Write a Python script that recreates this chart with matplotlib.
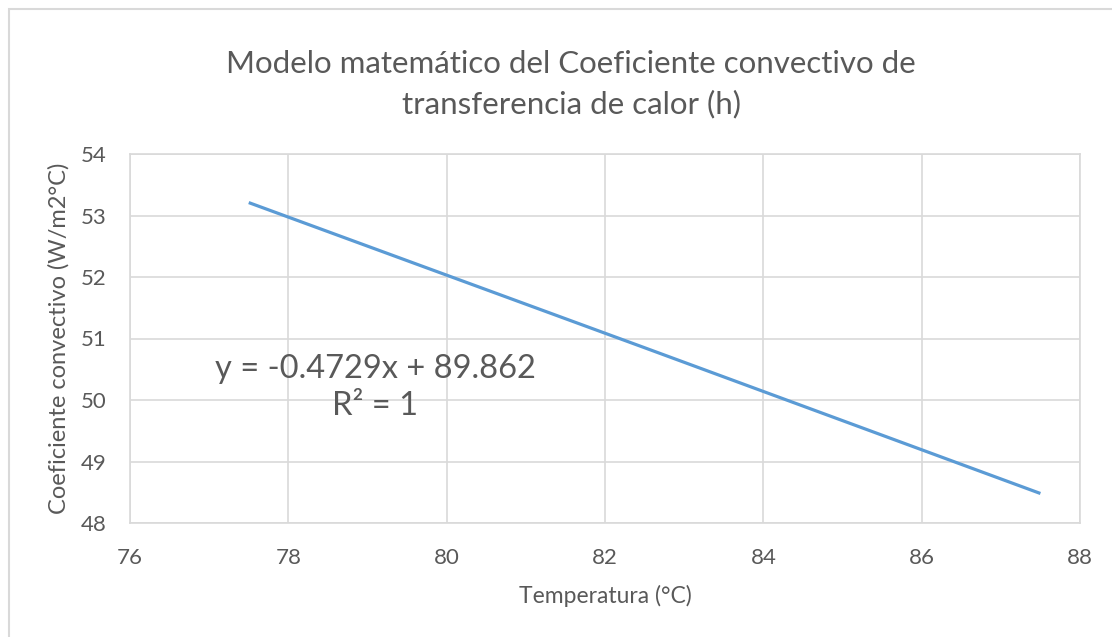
import matplotlib
matplotlib.use("Agg")
import matplotlib.pyplot as plt
from matplotlib.patches import Rectangle

# values
temperatura = [77.5, 82.5, 87.5]
coeficiente = [53.21, 50.85, 48.48]
x_ticks = [76, 78, 80, 82, 84, 86, 88]
y_ticks = [48, 49, 50, 51, 52, 53, 54]
ecuacion = "y = -0.4729x + 89.862\nR² = 1"

TEXT = "#595959"
GRID = "#d9d9d9"
LINE = "#5b9bd5"

plt.rcParams["font.family"] = ["Lato", "DejaVu Sans"]

fig = plt.figure(figsize=(11.12, 6.37), dpi=100)
fig.patches.append(Rectangle((9 / 1112, -0.1), 1.2, 1 - 9 / 637 + 0.1,
                             transform=fig.transFigure, fill=False,
                             edgecolor=GRID, linewidth=1.5))

ax = fig.add_axes([130 / 1112, 1 - 523 / 637, 950 / 1112, 369 / 637])
ax.plot(temperatura, coeficiente, color=LINE, linewidth=2.3, solid_capstyle="butt")

ax.set_xlim(76, 88)
ax.set_ylim(48, 54)
ax.set_xticks(x_ticks)
ax.set_yticks(y_ticks)
ax.grid(True, color=GRID, linewidth=1.2)
ax.set_axisbelow(True)
for spine in ax.spines.values():
    spine.set_color(GRID)
    spine.set_linewidth(1.2)
ax.tick_params(length=0, labelsize=16, colors=TEXT)
ax.tick_params(axis="x", pad=18)
ax.tick_params(axis="y", pad=17)

ax.set_xlabel("Temperatura (°C)", fontsize=16.5, color=TEXT, labelpad=12)
ax.set_ylabel("Coeficiente convectivo (W/m2°C)", fontsize=17, color=TEXT, labelpad=8)

fig.text(571 / 1112, 1 - 84 / 637,
         "Modelo matemático del Coeficiente convectivo de\ntransferencia de calor (h)",
         ha="center", va="center", fontsize=22.5, color=TEXT, linespacing=1.5)

ax.text(0.258, 0.368, ecuacion, transform=ax.transAxes, ha="center", va="center",
        fontsize=23.5, color=TEXT, linespacing=1.3)

fig.savefig("out.png", dpi=100)
